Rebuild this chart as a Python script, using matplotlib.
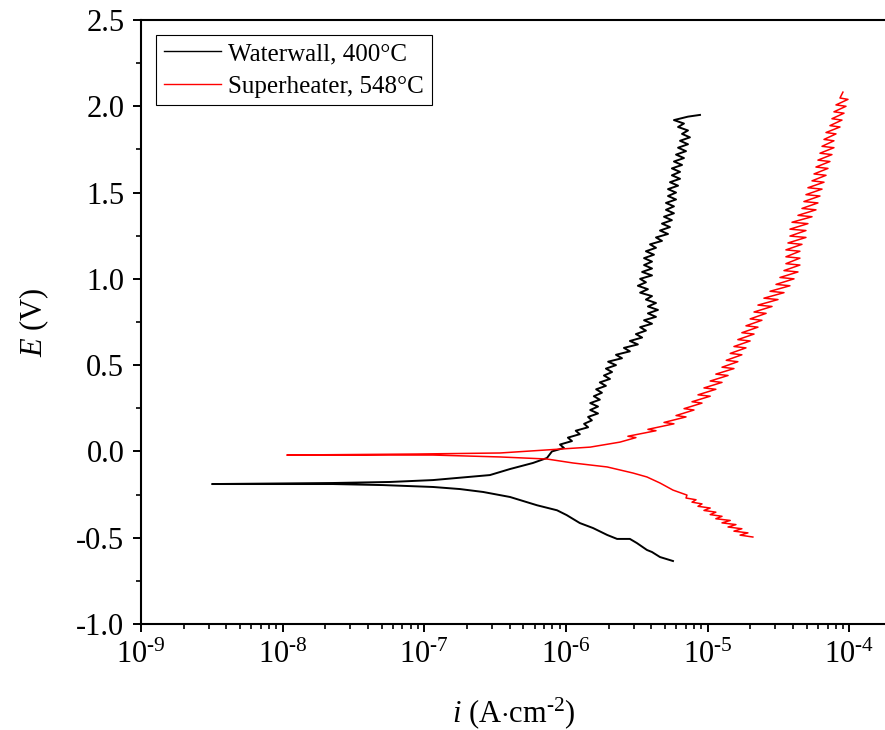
#!/usr/bin/env python3
# -*- coding: utf-8 -*-

"""Potentiodynamic polarisation curves: waterwall vs superheater deposits."""

import math

import matplotlib
matplotlib.use("Agg")
import matplotlib.pyplot as plt
from matplotlib.ticker import (FixedLocator, FormatStrFormatter, FuncFormatter, LogLocator,
                               MultipleLocator, NullFormatter)

FIG_W_PX = 885
FIG_H_PX = 730
DPI = 100
HYPHEN = "\u2010"

# Waterwall, 400 C  (current density in A/cm2, potential in V), scan order:
# cathodic branch, then anodic branch
waterwall_i = [
    5.68e-6, 4.60e-6, 4.04e-6, 3.72e-6, 3.16e-6, 2.82e-6, 2.29e-6, 1.95e-6, 1.55e-6, 1.25e-6,
    1.01e-6, 8.63e-7, 6.24e-7, 4.02e-7, 2.60e-7, 1.78e-7, 1.15e-7, 5.11e-8, 2.26e-8, 7.74e-9,
    3.17e-9, 7.74e-9, 2.26e-8, 5.71e-8, 1.15e-7, 2.90e-7, 4.02e-7, 5.83e-7, 7.33e-7,
    7.95e-7, 9.66e-7, 9.06e-7, 1.10e-6, 1.03e-6, 1.25e-6, 1.17e-6, 1.43e-6, 1.34e-6, 1.52e-6,
    1.43e-6, 1.68e-6, 1.48e-6, 1.68e-6, 1.48e-6, 1.73e-6, 1.57e-6, 1.79e-6, 1.63e-6, 1.91e-6,
    1.73e-6, 2.04e-6, 1.85e-6, 2.11e-6, 1.91e-6, 2.25e-6, 1.98e-6, 2.48e-6, 2.25e-6, 2.82e-6,
    2.56e-6, 3.21e-6, 2.82e-6, 3.44e-6, 3.11e-6, 3.66e-6, 3.33e-6, 4.04e-6, 3.55e-6, 4.31e-6,
    3.78e-6, 4.45e-6, 3.78e-6, 4.31e-6, 3.66e-6, 4.04e-6, 3.33e-6, 3.78e-6, 3.21e-6, 3.66e-6,
    3.33e-6, 4.04e-6, 3.44e-6, 4.04e-6, 3.55e-6, 4.04e-6, 3.55e-6, 4.17e-6, 3.66e-6, 4.31e-6,
    3.91e-6, 4.75e-6, 4.31e-6, 5.24e-6, 4.60e-6, 5.41e-6, 4.75e-6, 5.58e-6, 4.91e-6, 5.77e-6,
    5.07e-6, 5.77e-6, 5.07e-6, 5.97e-6, 5.24e-6, 5.97e-6, 5.24e-6, 6.17e-6, 5.41e-6, 6.37e-6,
    5.58e-6, 6.37e-6, 5.58e-6, 6.58e-6, 5.77e-6, 6.79e-6, 5.97e-6, 7.02e-6, 6.17e-6, 7.25e-6,
    6.37e-6, 7.48e-6, 6.58e-6, 7.25e-6, 6.17e-6, 6.79e-6, 5.77e-6, 7.25e-6, 8.81e-6,
]
waterwall_E = [
    -0.635, -0.612, -0.583, -0.571, -0.531, -0.507, -0.507, -0.484, -0.444, -0.415,
    -0.369, -0.341, -0.312, -0.264, -0.235, -0.218, -0.206, -0.195, -0.189, -0.189,
    -0.189, -0.186, -0.183, -0.177, -0.166, -0.137, -0.102, -0.067, -0.038,
    0.00, 0.02, 0.04, 0.06, 0.08, 0.10, 0.12, 0.14, 0.16, 0.18,
    0.20, 0.22, 0.24, 0.26, 0.28, 0.30, 0.32, 0.34, 0.36, 0.38,
    0.40, 0.42, 0.44, 0.46, 0.48, 0.50, 0.52, 0.54, 0.56, 0.58,
    0.60, 0.62, 0.64, 0.66, 0.68, 0.70, 0.72, 0.74, 0.76, 0.78,
    0.80, 0.82, 0.84, 0.86, 0.88, 0.90, 0.92, 0.94, 0.96, 0.98,
    1.00, 1.02, 1.04, 1.06, 1.08, 1.10, 1.12, 1.14, 1.16, 1.18,
    1.20, 1.22, 1.24, 1.26, 1.28, 1.30, 1.32, 1.34, 1.36, 1.38,
    1.40, 1.42, 1.44, 1.46, 1.48, 1.50, 1.52, 1.54, 1.56, 1.58,
    1.60, 1.62, 1.64, 1.66, 1.68, 1.70, 1.72, 1.74, 1.76, 1.78,
    1.80, 1.82, 1.84, 1.86, 1.88, 1.90, 1.92, 1.94, 1.95,
]

# Superheater, 548 C
superheater_i = [
    2.08e-5, 1.69e-5, 1.92e-5, 1.53e-5, 1.74e-5, 1.39e-5, 1.58e-5, 1.26e-5, 1.44e-5, 1.14e-5,
    1.26e-5, 1.04e-5, 1.14e-5, 9.40e-6, 1.04e-5, 8.53e-6, 9.10e-6, 7.74e-6, 8.26e-6, 7.02e-6,
    7.13e-6, 5.68e-6, 4.60e-6, 3.72e-6, 2.96e-6, 1.95e-6, 1.12e-6, 7.33e-7, 3.42e-7, 1.15e-7,
    1.07e-8, 8.87e-8, 3.42e-7, 9.06e-7, 1.48e-6, 2.40e-6,
    3.11e-6, 2.73e-6, 4.31e-6, 3.78e-6, 5.77e-6, 4.91e-6, 7.02e-6, 5.97e-6, 7.99e-6, 6.80e-6,
    9.10e-6, 7.74e-6, 1.04e-5, 8.53e-6, 1.14e-5, 9.40e-6, 1.26e-5, 1.04e-5, 1.39e-5, 1.14e-5,
    1.53e-5, 1.26e-5, 1.63e-5, 1.35e-5, 1.74e-5, 1.44e-5, 1.86e-5, 1.53e-5, 1.99e-5, 1.63e-5,
    2.12e-5, 1.74e-5, 2.26e-5, 1.86e-5, 2.41e-5, 1.99e-5, 2.58e-5, 2.12e-5, 2.84e-5, 2.26e-5,
    3.13e-5, 2.49e-5, 3.45e-5, 2.75e-5, 3.80e-5, 3.03e-5, 4.06e-5, 3.23e-5, 4.33e-5, 3.45e-5,
    4.47e-5, 3.56e-5, 4.47e-5, 3.56e-5, 4.47e-5, 3.56e-5, 4.62e-5, 3.68e-5, 4.93e-5, 3.80e-5,
    4.93e-5, 3.80e-5, 5.09e-5, 3.93e-5, 5.44e-5, 4.33e-5, 5.80e-5, 4.62e-5, 5.99e-5, 4.77e-5,
    6.19e-5, 4.93e-5, 6.40e-5, 5.09e-5, 6.61e-5, 5.44e-5, 6.83e-5, 5.62e-5, 7.05e-5, 5.80e-5,
    7.28e-5, 5.99e-5, 7.52e-5, 6.19e-5, 7.77e-5, 6.40e-5, 7.77e-5, 6.61e-5, 8.03e-5, 6.83e-5,
    8.57e-5, 7.28e-5, 8.85e-5, 7.52e-5, 9.15e-5, 7.77e-5, 9.45e-5, 8.03e-5, 9.76e-5, 8.57e-5,
    8.99e-5,
]
superheater_E = [
    -0.496, -0.485, -0.472, -0.462, -0.448, -0.438, -0.424, -0.414, -0.400, -0.390,
    -0.376, -0.366, -0.352, -0.342, -0.328, -0.318, -0.304, -0.294, -0.280, -0.270,
    -0.253, -0.224, -0.183, -0.148, -0.125, -0.090, -0.067, -0.044, -0.032, -0.021,
    -0.021, -0.015, -0.009, 0.014, 0.025, 0.054,
    0.080, 0.088, 0.120, 0.128, 0.160, 0.168, 0.200, 0.208, 0.240, 0.248,
    0.280, 0.288, 0.320, 0.328, 0.360, 0.368, 0.400, 0.408, 0.440, 0.448,
    0.480, 0.488, 0.520, 0.528, 0.560, 0.568, 0.600, 0.608, 0.640, 0.648,
    0.680, 0.688, 0.720, 0.728, 0.760, 0.768, 0.800, 0.808, 0.840, 0.848,
    0.880, 0.888, 0.920, 0.928, 0.960, 0.968, 1.000, 1.008, 1.040, 1.048,
    1.080, 1.088, 1.120, 1.128, 1.160, 1.168, 1.200, 1.208, 1.240, 1.248,
    1.280, 1.288, 1.320, 1.328, 1.360, 1.368, 1.400, 1.408, 1.440, 1.448,
    1.480, 1.488, 1.520, 1.528, 1.560, 1.568, 1.600, 1.608, 1.640, 1.648,
    1.680, 1.688, 1.720, 1.728, 1.760, 1.768, 1.800, 1.808, 1.840, 1.848,
    1.880, 1.888, 1.920, 1.928, 1.960, 1.968, 2.000, 2.008, 2.040, 2.048,
    2.082,
]

X_DECADES = [1e-9, 1e-8, 1e-7, 1e-6, 1e-5, 1e-4]
SERIES_LABELS = ["Waterwall, 400\u00b0C", "Superheater, 548\u00b0C"]
SERIES_COLORS = ["#000000", "#FF0000"]


def setup_style():
    plt.rcParams["font.family"] = ["Liberation Serif", "DejaVu Serif"]
    plt.rcParams["mathtext.fontset"] = "custom"
    plt.rcParams["mathtext.rm"] = "Liberation Serif"
    plt.rcParams["mathtext.it"] = "Liberation Serif:italic"
    plt.rcParams["axes.unicode_minus"] = False


def decade_label(value, _pos):
    # "10^-9" style with a short hyphen rather than the wide math minus
    exp = int(round(math.log10(value)))
    sign = HYPHEN if exp < 0 else ""
    return rf"$10^{{{sign}{abs(exp)}}}$"


def main():
    setup_style()
    fig = plt.figure(figsize=(FIG_W_PX / DPI, FIG_H_PX / DPI), dpi=DPI)
    # axes run slightly past the right edge, so no right spine shows
    ax = fig.add_axes([141 / FIG_W_PX, 106 / FIG_H_PX, 746 / FIG_W_PX, 604 / FIG_H_PX])

    ax.plot(waterwall_i, waterwall_E, color=SERIES_COLORS[0], lw=1.4, label=SERIES_LABELS[0])
    ax.plot(superheater_i, superheater_E, color=SERIES_COLORS[1], lw=1.1, label=SERIES_LABELS[1])

    ax.set_xscale("log")
    ax.set_xlim(1e-9, 1.84e-4)
    ax.set_ylim(-1.0, 2.5)

    ax.xaxis.set_major_locator(FixedLocator(X_DECADES))
    ax.xaxis.set_major_formatter(FuncFormatter(decade_label))
    ax.xaxis.set_minor_locator(LogLocator(base=10, subs=range(2, 10), numticks=12))
    ax.xaxis.set_minor_formatter(NullFormatter())
    ax.yaxis.set_major_locator(MultipleLocator(0.5))
    ax.yaxis.set_minor_locator(MultipleLocator(0.25))
    ax.yaxis.set_major_formatter(FormatStrFormatter("%.1f"))

    ax.tick_params(which="major", direction="out", length=6, width=1.4, labelsize=22, pad=6)
    ax.tick_params(which="minor", direction="out", length=3.5, width=1.2)
    ax.tick_params(top=False, right=False, which="both")
    for spine in ax.spines.values():
        spine.set_linewidth(1.5)

    ax.set_xlabel(rf"$\mathit{{i}}$ (A$\cdot$cm$^{{{HYPHEN}2}}$)", fontsize=22, labelpad=18)
    ax.set_ylabel(r"$\mathit{E}$ (V)", fontsize=22, labelpad=18)

    leg = ax.legend(
        loc="upper left",
        frameon=True,
        fancybox=False,
        edgecolor="black",
        framealpha=1.0,
        fontsize=18,
        handlelength=2.3,
        handletextpad=0.3,
        labelspacing=0.4,
        borderpad=0.3,
        borderaxespad=0.6,
    )
    leg.get_frame().set_linewidth(0.8)
    for line in leg.get_lines():
        line.set_linewidth(1.0)

    fig.savefig("out.png", dpi=DPI)
    plt.close(fig)


if __name__ == "__main__":
    main()
